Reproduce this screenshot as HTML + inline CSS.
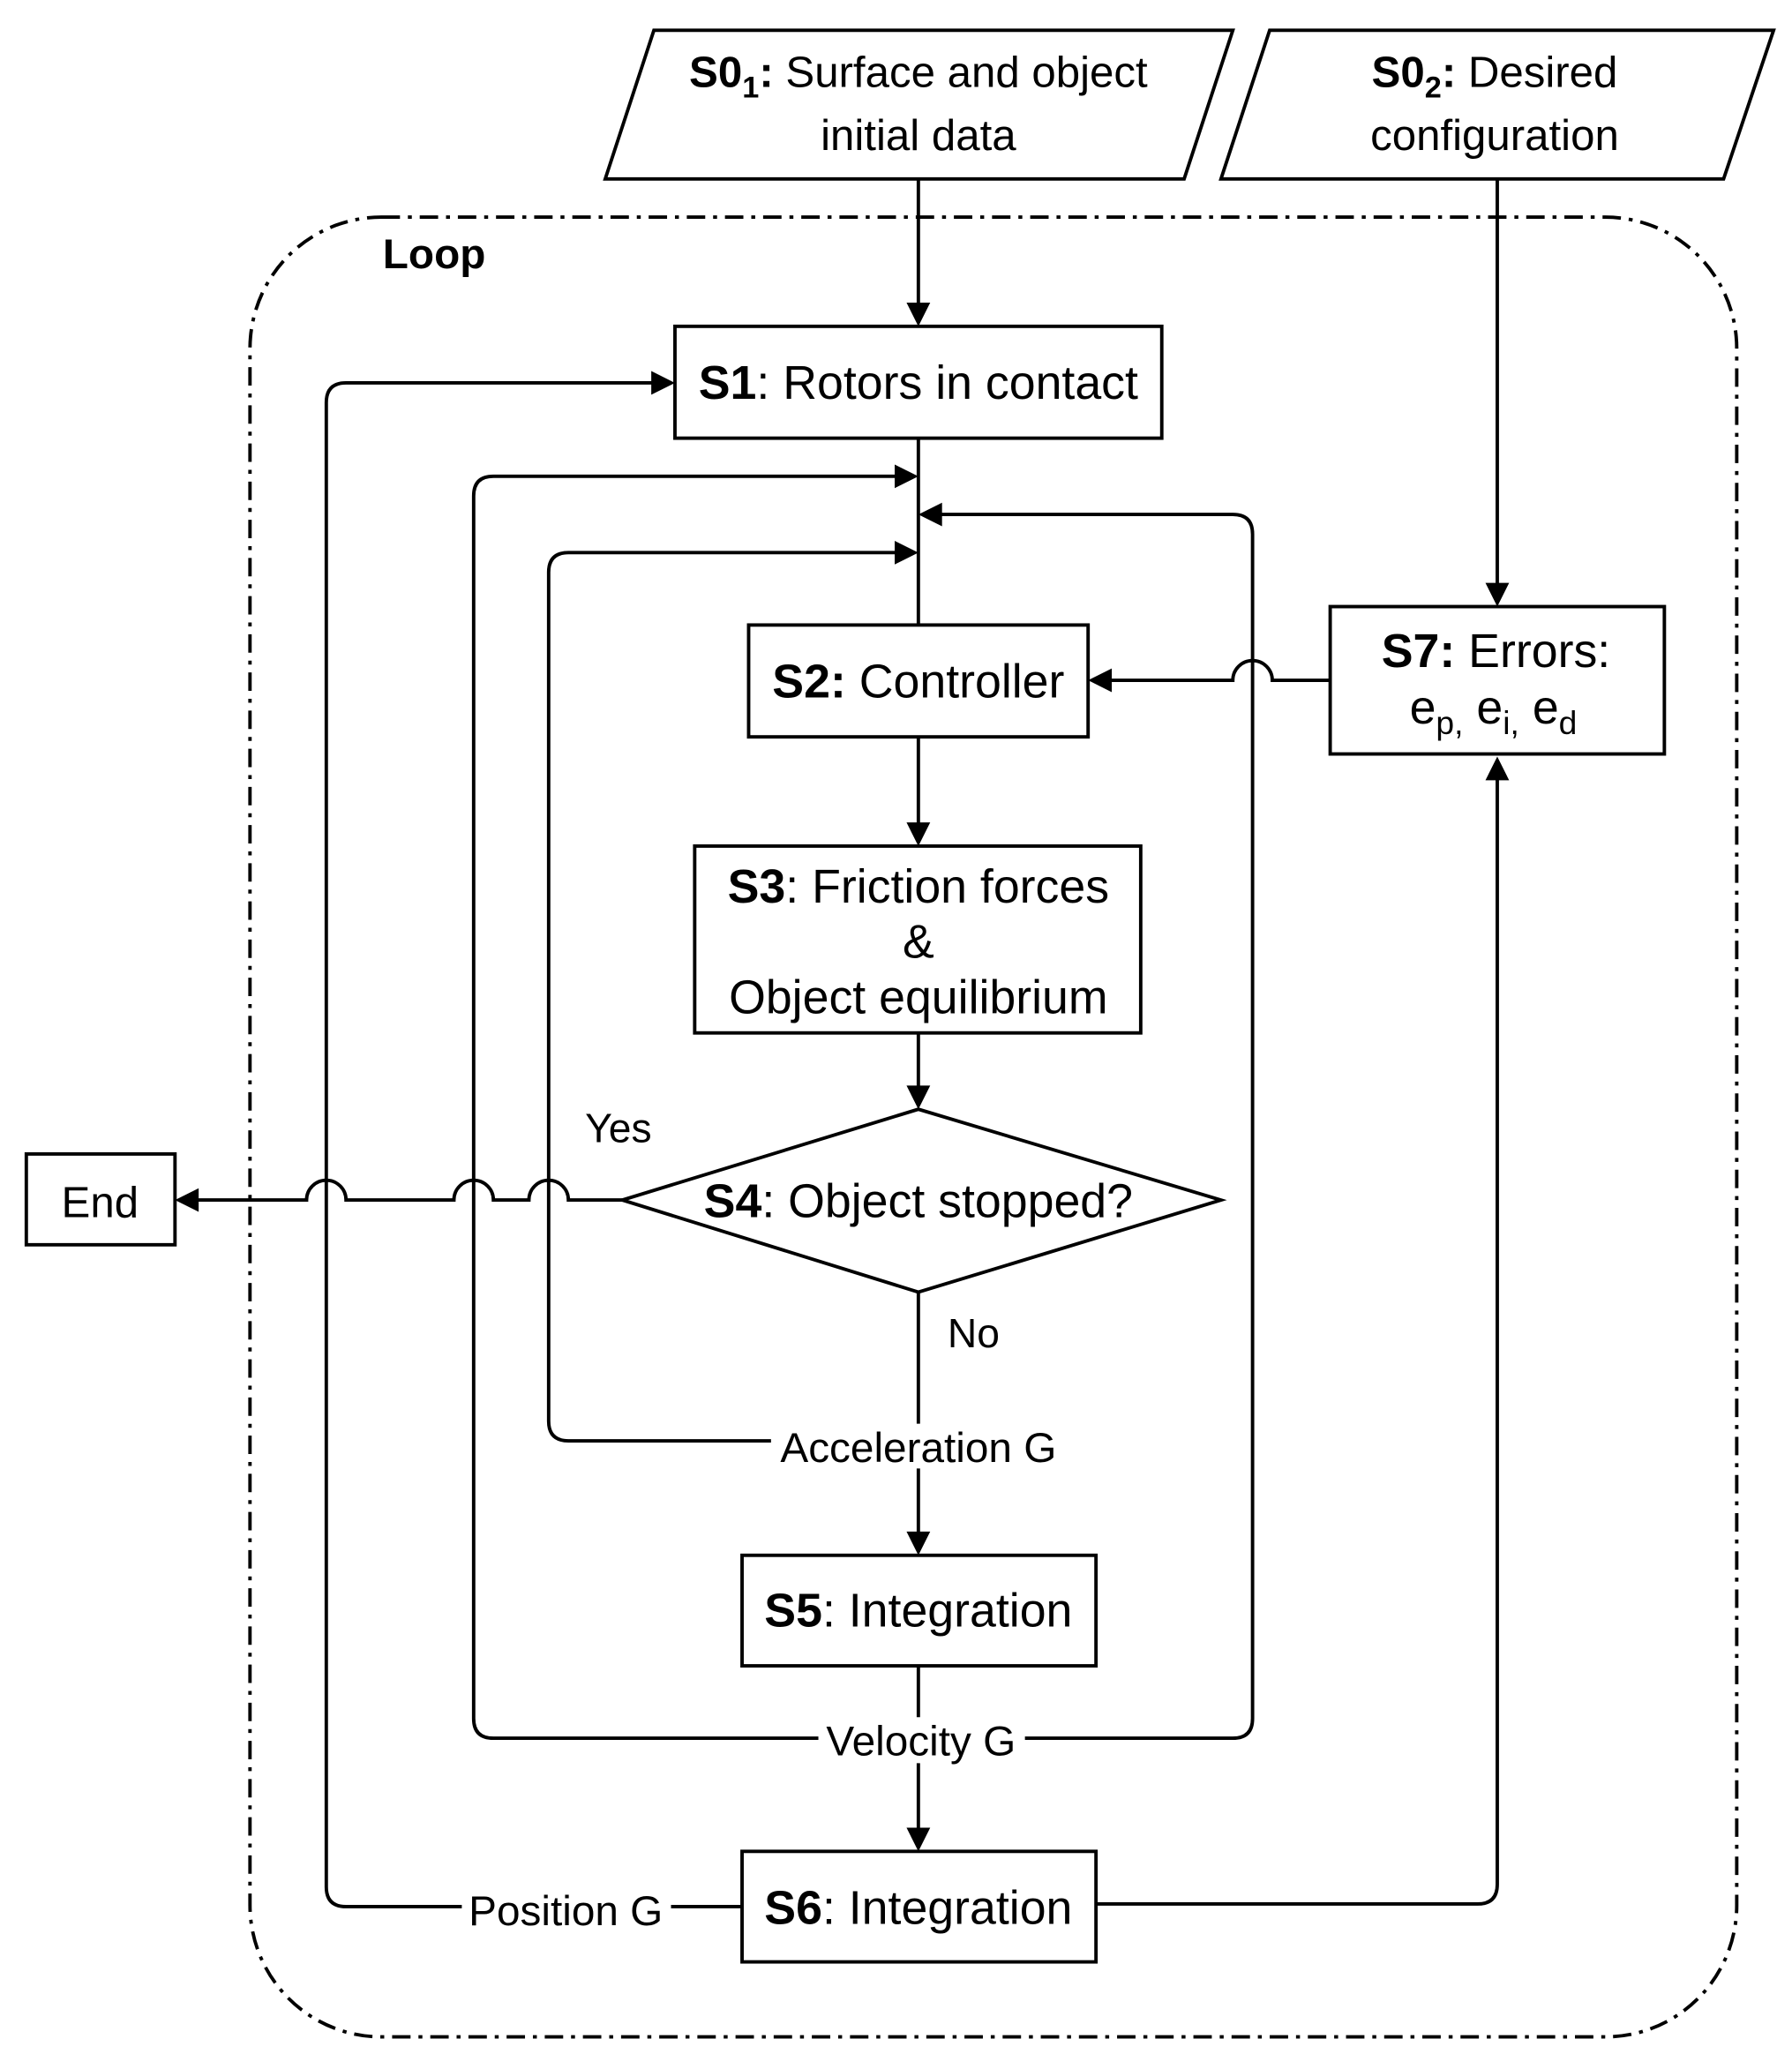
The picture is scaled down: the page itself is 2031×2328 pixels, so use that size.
<!DOCTYPE html>
<html><head><meta charset="utf-8"><style>
html,body{margin:0;padding:0;background:#fff}
svg{display:block}
text{font-family:"Liberation Sans",Arial,sans-serif;fill:#000}
</style></head><body>
<svg width="2031" height="2328" viewBox="0 0 1362 1561" preserveAspectRatio="none" xmlns="http://www.w3.org/2000/svg">
<g fill="none" stroke="#000" stroke-width="2.6">
<rect x="190" y="165" width="1130" height="1383" rx="100" ry="100" stroke-dasharray="14,6,3,6"/>
<polygon points="497,23 937,23 900,136 460,136"/>
<polygon points="965,23 1348,23 1310,136 928,136"/>
<rect x="513" y="248" width="370" height="85"/>
<rect x="569" y="475" width="258" height="85"/>
<rect x="528" y="643" width="339" height="142"/>
<polygon points="473,912 698,843 928,912 698,982"/>
<rect x="564" y="1182" width="269" height="84"/>
<rect x="564" y="1407" width="269" height="84"/>
<rect x="1011" y="461" width="254" height="112"/>
<rect x="20" y="877" width="113" height="69"/>
<line x1="698" y1="136" x2="698" y2="236"/>
<line x1="1138" y1="136" x2="1138" y2="449"/>
<line x1="698" y1="333" x2="698" y2="475"/>
<line x1="698" y1="560" x2="698" y2="631"/>
<line x1="698" y1="785" x2="698" y2="831"/>
<line x1="698" y1="982" x2="698" y2="1082"/>
<line x1="698" y1="1116" x2="698" y2="1170"/>
<line x1="698" y1="1266" x2="698" y2="1305"/>
<line x1="698" y1="1340" x2="698" y2="1395"/>
<path d="M586,1095 H432 Q417,1095 417,1080 V435 Q417,420 432,420 H686"/>
<path d="M622,1321 H375 Q360,1321 360,1306 V377 Q360,362 375,362 H686"/>
<path d="M779,1321 H937 Q952,1321 952,1306 V406 Q952,391 937,391 H710"/>
<path d="M564,1449 H510"/>
<path d="M351,1449 H263 Q248,1449 248,1434 V306 Q248,291 263,291 H501"/>
<path d="M833,1447 H1123 Q1138,1447 1138,1432 V587"/>
<path d="M1011,517 H967 A15,15 0 0 0 937,517 H839"/>
<path d="M473,912 H432 A15,15 0 0 0 402,912 H375 A15,15 0 0 0 345,912 H263 A15,15 0 0 0 233,912 H145"/>
</g>
<g fill="#000">
<polygon points="698,248 689,230 707,230"/>
<polygon points="1138,461 1129,443 1147,443"/>
<polygon points="698,643 689,625 707,625"/>
<polygon points="698,843 689,825 707,825"/>
<polygon points="698,1182 689,1164 707,1164"/>
<polygon points="698,1407 689,1389 707,1389"/>
<polygon points="698,362 680,353 680,371"/>
<polygon points="698,420 680,411 680,429"/>
<polygon points="698,391 716,382 716,400"/>
<polygon points="513,291 495,282 495,300"/>
<polygon points="1138,575 1129,593 1147,593"/>
<polygon points="827,517 845,508 845,526"/>
<polygon points="133,912 151,903 151,921"/>
</g>
<g font-size="33" text-anchor="middle">
<text x="698" y="66"><tspan font-weight="bold">S0<tspan font-size="23" dy="8">1</tspan><tspan dy="-8">:</tspan></tspan> Surface and object</text>
<text x="698" y="114">initial data</text>
<text x="1136" y="66"><tspan font-weight="bold">S0<tspan font-size="23" dy="8">2</tspan><tspan dy="-8">:</tspan></tspan>  Desired</text>
<text x="1136" y="114">configuration</text>
<text x="698" y="303" font-size="36"><tspan font-weight="bold">S1</tspan>: Rotors in contact</text>
<text x="698" y="530" font-size="36"><tspan font-weight="bold">S2:</tspan> Controller</text>
<text x="698" y="686" font-size="36"><tspan font-weight="bold">S3</tspan>: Friction forces</text>
<text x="698" y="728" font-size="36">&amp;</text>
<text x="698" y="770" font-size="36">Object equilibrium</text>
<text x="698" y="925" font-size="36"><tspan font-weight="bold">S4</tspan>: Object stopped?</text>
<text x="698" y="1236" font-size="36"><tspan font-weight="bold">S5</tspan>: Integration</text>
<text x="698" y="1462" font-size="36"><tspan font-weight="bold">S6</tspan>: Integration</text>
<text x="1137" y="507" font-size="36"><tspan font-weight="bold">S7:</tspan> Errors:</text>
<text x="1135" y="550" font-size="36">e<tspan font-size="25" dy="8">p,</tspan><tspan dy="-8"> e</tspan><tspan font-size="25" dy="8">i,</tspan><tspan dy="-8"> e</tspan><tspan font-size="25" dy="8">d</tspan></text>
<text x="76" y="925">End</text>
<text x="470" y="868" font-size="31">Yes</text>
<text x="740" y="1024" font-size="31">No</text>
<text x="698" y="1111" font-size="32">Acceleration G</text>
<text x="700" y="1334" font-size="32">Velocity G</text>
<text x="430" y="1463" font-size="32">Position G</text>
<text x="330" y="204" font-size="32" font-weight="bold">Loop</text>
</g>
</svg>
</body></html>
